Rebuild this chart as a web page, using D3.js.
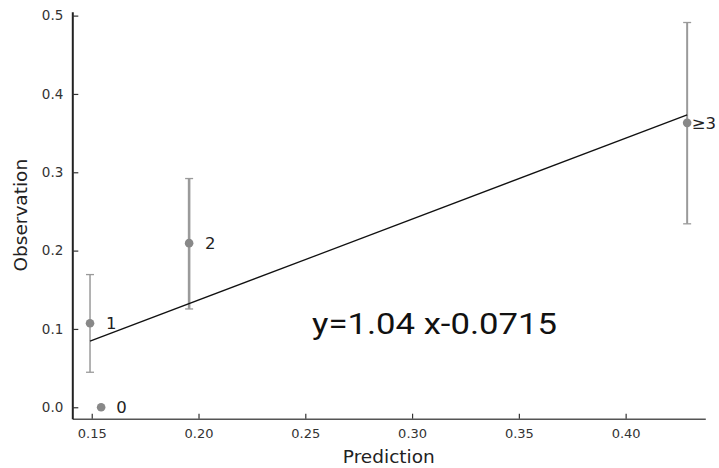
<!DOCTYPE html>
<html><head><meta charset="utf-8">
<script src="https://cdn.jsdelivr.net/npm/d3@7"></script>
<style>body{margin:0;background:#fff}svg{display:block}</style>
</head><body>
<script>
const groupLabels = ["0", "1", "2", "≥3"];
const prediction = [0.1544, 0.1492, 0.1956, 0.4288];
const observation = [0.0, 0.1073, 0.2095, 0.3631];
const ciLower = [null, 0.0447, 0.1255, 0.2342];
const ciUpper = [null, 0.1694, 0.2920, 0.4912];
const fitX = [0.1492, 0.4288];
const fitY = [0.0843, 0.3733];
const xTicks = [0.15, 0.20, 0.25, 0.30, 0.35, 0.40];
const yTicks = [0.0, 0.1, 0.2, 0.3, 0.4, 0.5];
const equationText = "y=1.04 x-0.0715";

const W = 719, H = 468;
const barWidths = [1.5, 1.5, 2.6, 2];
const labelOffsets = [15, 16, 16, 4.5];

const svg = d3.select("body").append("svg").attr("width", W).attr("height", H);
const x = d3.scaleLinear().domain([0.1409, 0.4373]).range([72.3, 705.3]);
const y = d3.scaleLinear().domain([-0.0146, 0.505]).range([418.7, 11.7]);

// x axis
const xa = svg.append("g").attr("transform", `translate(0,${y.range()[0]})`)
  .call(d3.axisBottom(x).tickValues(xTicks).tickFormat(d3.format(".2f")).tickSizeInner(-5).tickSizeOuter(0).tickPadding(10));
xa.select(".domain").attr("stroke", "#555").attr("stroke-width", 1.6);
xa.selectAll(".tick line").attr("stroke", "#333").attr("stroke-width", 1.2);
xa.selectAll("text").attr("font-family", "DejaVu Sans").attr("font-size", 13).attr("fill", "#333");

// y axis
const ya = svg.append("g").attr("transform", `translate(${x.range()[0]},0)`)
  .call(d3.axisLeft(y).tickValues(yTicks).tickFormat(d3.format(".1f")).tickSizeInner(-6).tickSizeOuter(0).tickPadding(9));
ya.select(".domain").attr("stroke", "#222").attr("stroke-width", 2);
ya.selectAll(".tick line").attr("stroke", "#333").attr("stroke-width", 1.2);
ya.selectAll("text").attr("font-family", "DejaVu Sans").attr("font-size", 13.5).attr("fill", "#333");

// axis titles
svg.append("text").attr("x", (x.range()[0] + x.range()[1]) / 2).attr("y", 462.5)
  .attr("text-anchor", "middle").attr("font-family", "DejaVu Sans").attr("font-size", 18.5).attr("fill", "#222")
  .text("Prediction");
svg.append("text").attr("transform", `translate(27,${(y.range()[0] + y.range()[1]) / 2}) rotate(-90)`)
  .attr("text-anchor", "middle").attr("font-family", "DejaVu Sans").attr("font-size", 18.5).attr("fill", "#222")
  .text("Observation");

const data = groupLabels.map((l, i) => ({l, px: prediction[i], ob: observation[i], lo: ciLower[i], hi: ciUpper[i], i}));

// error bars
const eb = svg.append("g").selectAll("g").data(data.filter(d => d.lo !== null)).join("g")
  .attr("stroke", "#9a9a9a");
eb.append("line").attr("x1", d => x(d.px)).attr("x2", d => x(d.px))
  .attr("y1", d => y(d.lo)).attr("y2", d => y(d.hi)).attr("stroke-width", d => barWidths[d.i]);
eb.append("line").attr("x1", d => x(d.px) - 4).attr("x2", d => x(d.px) + 4)
  .attr("y1", d => y(d.hi)).attr("y2", d => y(d.hi)).attr("stroke-width", 1.3);
eb.append("line").attr("x1", d => x(d.px) - 4).attr("x2", d => x(d.px) + 4)
  .attr("y1", d => y(d.lo)).attr("y2", d => y(d.lo)).attr("stroke-width", 1.3);

// fit line
svg.append("path").datum(fitX.map((v, i) => [v, fitY[i]]))
  .attr("d", d3.line().x(d => x(d[0])).y(d => y(d[1])))
  .attr("fill", "none").attr("stroke", "#111").attr("stroke-width", 1.3);

// points
svg.append("g").selectAll("circle").data(data).join("circle")
  .attr("cx", d => x(d.px)).attr("cy", d => y(d.ob)).attr("r", 4.3).attr("fill", "#888");

// point labels
svg.append("g").selectAll("text").data(data).join("text")
  .attr("x", d => x(d.px) + labelOffsets[d.i]).attr("y", d => y(d.ob)).attr("dy", "0.36em")
  .attr("font-family", "DejaVu Sans").attr("font-size", 16.5).attr("fill", "#222")
  .text(d => d.l);

// equation
svg.append("text").attr("x", 312).attr("y", 334)
  .attr("font-family", "Roboto").attr("font-size", 29.5).attr("fill", "#111")
  .attr("textLength", 245).attr("lengthAdjust", "spacingAndGlyphs")
  .text(equationText);
</script>
</body></html>
